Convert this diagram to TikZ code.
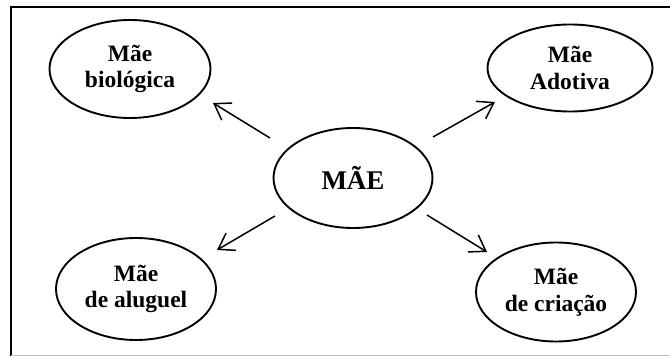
\documentclass[tikz,border=0pt]{standalone}
\usepackage{fontspec}
\setmainfont{Liberation Serif}
\usetikzlibrary{shapes.geometric,arrows.meta}
\begin{document}
\begin{tikzpicture}[x=1pt,y=-1pt,
  ell/.style={draw,ellipse,line width=1.9pt,inner sep=0pt,align=center,
    font=\bfseries\fontsize{23.5}{26.5}\selectfont},
  arr/.style={line width=1.5pt,-{Straight Barb[length=15pt,width=20pt,line width=1.5pt]}}]
\useasboundingbox (0,0) rectangle (670,358);
\draw[line width=2pt] (11,356) -- (11,7) -- (672,7);
\draw[line width=1pt,black!25] (11,356) -- (672,356);
\node[ell,minimum width=161pt,minimum height=98pt] (bio) at (130,69) {Mãe\\biológica};
\node[ell,minimum width=165pt,minimum height=87pt] (ado) at (570,68) {Mãe\\Adotiva};
\node[ell,minimum width=159pt,minimum height=100pt,font=\bfseries\fontsize{27}{30}\selectfont] (mae) at (353,178) {MÃE};
\node[ell,minimum width=160pt,minimum height=102pt] (alu) at (136,289) {Mãe\\de aluguel};
\node[ell,minimum width=160pt,minimum height=99pt] (cri) at (556,292) {Mãe\\de criação};
\coordinate (s1) at (270,138); \coordinate (e1) at (213,103);
\coordinate (s2) at (433,137); \coordinate (e2) at (495,102);
\coordinate (s3) at (275,216); \coordinate (e3) at (217,250);
\coordinate (s4) at (427,215); \coordinate (e4) at (487,252);
\draw[arr] (s1) -- (e1);
\draw[arr] (s2) -- (e2);
\draw[arr] (s3) -- (e3);
\draw[arr] (s4) -- (e4);
\end{tikzpicture}
\end{document}
